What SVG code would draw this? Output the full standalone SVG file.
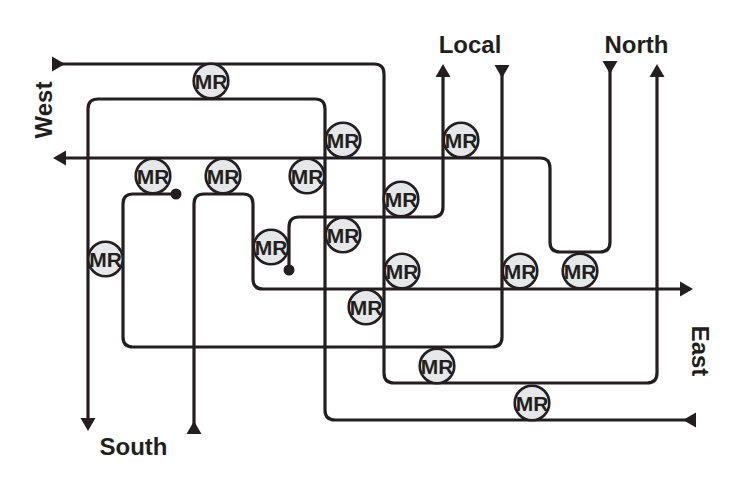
<svg xmlns="http://www.w3.org/2000/svg" width="739" height="490" viewBox="0 0 739 490">
<style>
.ln{fill:none;stroke:#231f20;stroke-width:3.2}
.mr circle{fill:#e6e7e8;stroke:#231f20;stroke-width:2.6}
.mr text{font-family:"Liberation Sans",Arial,sans-serif;font-weight:bold;font-size:21px;fill:#231f20;text-anchor:middle}
.lbl{font-family:"Liberation Sans",Arial,sans-serif;font-weight:bold;font-size:24px;fill:#231f20;text-anchor:middle}
.dot{fill:#231f20}
</style>
<defs>
<marker id="arr" markerUnits="userSpaceOnUse" markerWidth="14" markerHeight="16" viewBox="0 -8 14 16" refX="0" refY="0" orient="auto">
<path d="M0,-7.5 L13,0 L0,7.5 Z" fill="#231f20"/>
</marker>
</defs>
<rect width="739" height="490" fill="#fff"/>
<g id="connectors">
<path id="west-north" class="ln" marker-start="url(#arr)" marker-end="url(#arr)" d="M52,64 H374 Q384,64 384,74 V373 Q384,383 394,383 H647 Q657,383 657,373 V77"/>
<path id="east-south" class="ln" marker-start="url(#arr)" marker-end="url(#arr)" d="M696,420 H335 Q325,420 325,410 V109 Q325,99 315,99 H98 Q88,99 88,109 V418"/>
<path id="north-west" class="ln" marker-start="url(#arr)" marker-end="url(#arr)" d="M610,61 V242 Q610,252 600,252 H560 Q550,252 550,242 V168 Q550,158 540,158 H66"/>
<path id="local-out" class="ln" marker-end="url(#arr)" d="M289,270 V227 Q289,217 299,217 H433 Q443,217 443,207 V77"/>
<path id="local-in" class="ln" marker-start="url(#arr)" d="M502,65 V337 Q502,347 492,347 H133 Q123,347 123,337 V204 Q123,194 133,194 H176"/>
<path id="south-east" class="ln" marker-start="url(#arr)" marker-end="url(#arr)" d="M194,434 V204 Q194,194 204,194 H243 Q253,194 253,204 V279 Q253,289 263,289 H680"/>
<circle class="dot" cx="289" cy="270" r="5.5"/>
<circle class="dot" cx="176" cy="194" r="5.5"/>
</g>
<g id="mr1" class="mr"><circle cx="211" cy="81" r="17.3"/><text x="211" y="88.5">MR</text></g>
<g id="mr2" class="mr"><circle cx="343" cy="140" r="17.3"/><text x="343" y="147.5">MR</text></g>
<g id="mr3" class="mr"><circle cx="153" cy="176" r="17.3"/><text x="153" y="183.5">MR</text></g>
<g id="mr4" class="mr"><circle cx="223" cy="176" r="17.3"/><text x="223" y="183.5">MR</text></g>
<g id="mr5" class="mr"><circle cx="307" cy="176" r="17.3"/><text x="307" y="183.5">MR</text></g>
<g id="mr6" class="mr"><circle cx="461" cy="140" r="17.3"/><text x="461" y="147.5">MR</text></g>
<g id="mr7" class="mr"><circle cx="401" cy="199" r="17.3"/><text x="401" y="206.5">MR</text></g>
<g id="mr8" class="mr"><circle cx="343" cy="235" r="17.3"/><text x="343" y="242.5">MR</text></g>
<g id="mr9" class="mr"><circle cx="271" cy="247" r="17.3"/><text x="271" y="254.5">MR</text></g>
<g id="mr10" class="mr"><circle cx="105.5" cy="259" r="17.3"/><text x="105.5" y="266.5">MR</text></g>
<g id="mr11" class="mr"><circle cx="402" cy="271" r="17.3"/><text x="402" y="278.5">MR</text></g>
<g id="mr12" class="mr"><circle cx="520" cy="271" r="17.3"/><text x="520" y="278.5">MR</text></g>
<g id="mr13" class="mr"><circle cx="580" cy="271" r="17.3"/><text x="580" y="278.5">MR</text></g>
<g id="mr14" class="mr"><circle cx="366" cy="307" r="17.3"/><text x="366" y="314.5">MR</text></g>
<g id="mr15" class="mr"><circle cx="437" cy="366" r="17.3"/><text x="437" y="373.5">MR</text></g>
<g id="mr16" class="mr"><circle cx="532" cy="403" r="17.3"/><text x="532" y="410.5">MR</text></g>
<g id="labels">
<text id="lbl-local" class="lbl" x="470" y="53">Local</text>
<text id="lbl-north" class="lbl" x="636.5" y="53">North</text>
<text id="lbl-south" class="lbl" x="133.5" y="455">South</text>
<text id="lbl-west" class="lbl" transform="translate(52,110) rotate(-90)">West</text>
<text id="lbl-east" class="lbl" transform="translate(692,351) rotate(90)">East</text>
</g>
</svg>
